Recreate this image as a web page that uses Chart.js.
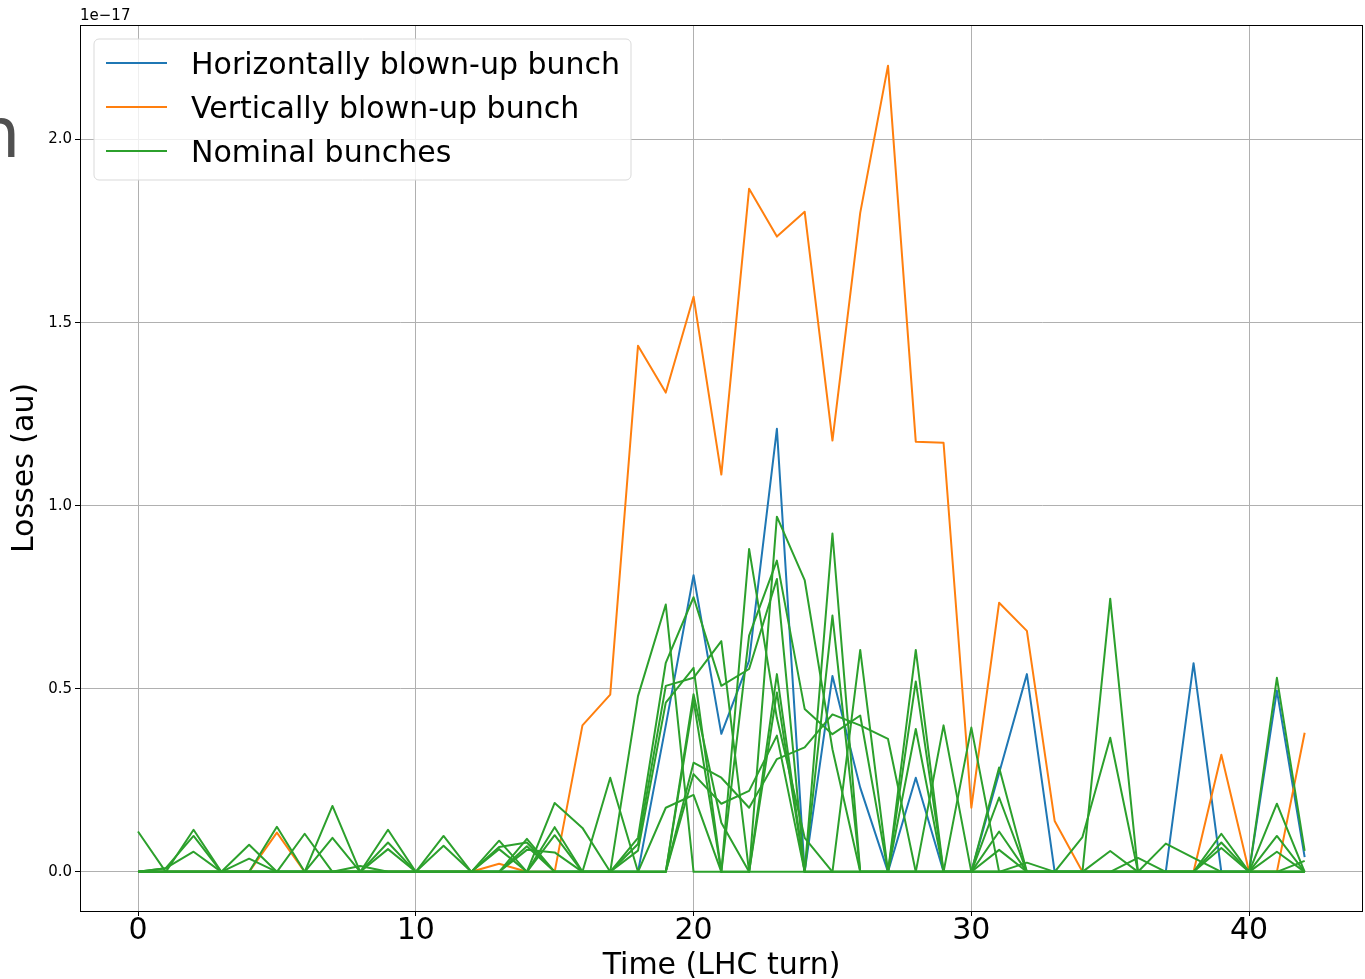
<!DOCTYPE html>
<html>
<head>
<meta charset="utf-8">
<script src="https://cdn.jsdelivr.net/npm/chart.js@4.4.1/dist/chart.umd.min.js"></script>
<style>
  html, body { margin: 0; padding: 0; background: #fff; }
  #wrap { width: 1365px; height: 979px; position: relative; }
</style>
</head>
<body>
<div id="wrap"><canvas id="lossChart" width="1365" height="979"></canvas></div>
<script>
// LHC turn number
const turns = [0, 1, 2, 3, 4, 5, 6, 7, 8, 9, 10, 11, 12, 13, 14, 15, 16, 17, 18, 19, 20,
               21, 22, 23, 24, 25, 26, 27, 28, 29, 30, 31, 32, 33, 34, 35, 36, 37, 38, 39, 40, 41, 42];

// losses in units of 1e-17
const horizontalBunch = [0, 0, 0, 0, 0, 0, 0, 0, 0, 0, 0, 0, 0, 0, 0, 0, 0, 0, 0, 0.40, 0.81,
                         0.377, 0.577, 1.21, 0, 0.535, 0.23, 0, 0.257, 0, 0, 0.27, 0.54, 0, 0, 0, 0, 0, 0.57, 0, 0, 0.495, 0.04];
const verticalBunch = [0, 0, 0, 0, 0, 0.107, 0, 0, 0, 0, 0, 0, 0, 0.022, 0, 0, 0.40, 0.484, 1.437, 1.309, 1.571,
                       1.085, 1.866, 1.735, 1.803, 1.178, 1.80, 2.202, 1.175, 1.172, 0.175, 0.735, 0.658, 0.139, 0, 0, 0, 0, 0, 0.32, 0, 0, 0.38];

// nominal bunches
const nominal1 = [0.11, 0, 0.115, 0, 0, 0, 0, 0.18, 0, 0.115, 0, 0, 0, 0.085, 0, 0.188, 0.12, 0, 0, 0, 0.298,
                  0.257, 0.175, 0.308, 0.34, 0.43, 0.40, 0.363, 0, 0, 0, 0.285, 0, 0, 0, 0.746, 0, 0, 0, 0.104, 0, 0.53, 0.057];
const nominal2 = [0, 0.01, 0.098, 0, 0.074, 0, 0, 0, 0, 0.08, 0, 0, 0, 0, 0.09, 0, 0, 0.257, 0, 0, 0.267,
                  0.186, 0.221, 0.372, 0, 0.924, 0, 0, 0.606, 0, 0, 0.203, 0, 0, 0, 0, 0, 0, 0, 0.08, 0, 0.186, 0];
const nominal3 = [0, 0.01, 0.055, 0, 0, 0.123, 0, 0, 0, 0, 0, 0.098, 0, 0, 0, 0.122, 0, 0, 0.48, 0.73, 0,
                  0, 0.882, 0.42, 0.093, 0, 0, 0, 0, 0.40, 0, 0, 0, 0, 0, 0.057, 0, 0, 0, 0, 0, 0.098, 0];
const nominal4 = [0, 0, 0, 0, 0.036, 0, 0.104, 0, 0, 0, 0, 0, 0, 0.068, 0.08, 0, 0, 0, 0.093, 0.571, 0.75,
                  0.508, 0.554, 0.80, 0, 0, 0, 0, 0.52, 0, 0, 0.11, 0, 0, 0, 0, 0.038, 0, 0, 0, 0, 0.055, 0];
const nominal5 = [0, 0, 0, 0, 0, 0, 0, 0.093, 0, 0.062, 0, 0, 0, 0, 0, 0.1, 0, 0, 0.076, 0.508, 0.53,
                  0.63, 0, 0, 0, 0.70, 0, 0, 0, 0, 0.394, 0, 0, 0, 0, 0, 0, 0.077, 0.038, 0, 0, 0, 0.03];
const nominal6 = [0, 0, 0, 0, 0, 0, 0, 0, 0.016, 0, 0, 0.071, 0, 0, 0.07, 0, 0, 0, 0.058, 0.462, 0.557,
                  0, 0.645, 0.85, 0.445, 0.376, 0.427, 0, 0, 0, 0, 0.06, 0, 0, 0, 0, 0, 0, 0, 0.065, 0, 0, 0];
const nominal7 = [0, 0, 0, 0, 0, 0, 0, 0, 0, 0, 0, 0, 0, 0.062, 0, 0, 0, 0, 0, 0.175, 0.21,
                  0, 0, 0.97, 0.797, 0.335, 0, 0, 0, 0, 0, 0, 0.025, 0, 0, 0, 0, 0, 0, 0, 0, 0, 0];
const nominal8 = [0, 0, 0, 0, 0, 0, 0, 0, 0, 0, 0, 0, 0, 0, 0.06, 0.053, 0, 0, 0, 0, 0.485,
                  0.134, 0, 0.54, 0, 0, 0.606, 0, 0, 0, 0, 0, 0, 0, 0.095, 0.366, 0, 0, 0, 0, 0, 0, 0];
const nominal9 = [0, 0, 0, 0, 0, 0, 0, 0, 0, 0, 0, 0, 0, 0, 0, 0, 0, 0, 0, 0, 0.467,
                  0, 0, 0.49, 0, 0, 0, 0, 0.39, 0, 0, 0, 0, 0, 0, 0, 0, 0, 0, 0, 0, 0, 0];
const nominalBunches = [nominal1, nominal2, nominal3, nominal4, nominal5, nominal6, nominal7, nominal8, nominal9];

const xTicks = [0, 10, 20, 30, 40];
const yTicks = [0.0, 0.5, 1.0, 1.5, 2.0];
const legendLabels = ['Horizontally blown-up bunch', 'Vertically blown-up bunch', 'Nominal bunches'];

const BLUE = '#1f77b4';
const ORANGE = '#ff7f0e';
const GREEN = '#2ca02c';
const FONT = '"DejaVu Sans", sans-serif';

const datasets = [
    { label: legendLabels[0], data: horizontalBunch, borderColor: BLUE, order: 3 },
    { label: legendLabels[1], data: verticalBunch, borderColor: ORANGE, order: 2 },
    ...nominalBunches.map((vals, i) => ({
        label: i === 0 ? legendLabels[2] : '',
        data: vals,
        borderColor: GREEN,
        order: 1
    }))
].map(ds => Object.assign(ds, {
    borderWidth: 2, borderJoinStyle: 'round', pointRadius: 0, tension: 0, fill: false
}));

// frame, offset text and boxed legend
const extras = {
    id: 'extras',
    afterDraw(chart) {
        const { ctx, chartArea: a } = chart;
        ctx.save();
        ctx.strokeStyle = '#000';
        ctx.lineWidth = 1;
        ctx.strokeRect(a.left + 0.5, a.top + 0.5, a.right - a.left - 1, a.bottom - a.top);

        ctx.fillStyle = '#000';
        ctx.font = '15px ' + FONT;
        ctx.textBaseline = 'alphabetic';
        ctx.textAlign = 'left';
        ctx.fillText('1e\u221217', a.left, a.top - 5);

        ctx.fillStyle = '#505050';
        ctx.font = '70px ' + FONT;
        ctx.fillText('n', -24, 157);

        // legend box
        const bx = 94, by = 39, bw = 537, bh = 141, r = 5;
        ctx.beginPath();
        ctx.moveTo(bx + r, by);
        ctx.arcTo(bx + bw, by, bx + bw, by + bh, r);
        ctx.arcTo(bx + bw, by + bh, bx, by + bh, r);
        ctx.arcTo(bx, by + bh, bx, by, r);
        ctx.arcTo(bx, by, bx + bw, by, r);
        ctx.closePath();
        ctx.fillStyle = 'rgba(255,255,255,0.8)';
        ctx.fill();
        ctx.strokeStyle = '#d9d9d9';
        ctx.stroke();

        const colors = [BLUE, ORANGE, GREEN];
        ctx.font = '30px ' + FONT;
        legendLabels.forEach((text, i) => {
            const y = 63 + i * 44;
            ctx.strokeStyle = colors[i];
            ctx.lineWidth = 2;
            ctx.beginPath();
            ctx.moveTo(106, y);
            ctx.lineTo(167, y);
            ctx.stroke();
            ctx.fillStyle = '#000';
            ctx.fillText(text, 191, y + 11);
        });
        ctx.restore();
    }
};

new Chart(document.getElementById('lossChart'), {
    type: 'line',
    data: { labels: turns, datasets },
    options: {
        responsive: false,
        animation: false,
        layout: { padding: { left: 0, top: 25, right: 2, bottom: 0 } },
        plugins: { legend: { display: false }, tooltip: { enabled: false } },
        scales: {
            x: {
                type: 'linear',
                min: -2.088,
                max: 44.1,
                afterFit: s => { s.height = 68; },
                afterBuildTicks: s => { s.ticks = xTicks.map(v => ({ value: v })); },
                grid: { color: '#b0b0b0', lineWidth: 1, tickColor: '#000', tickLength: 5, tickWidth: 1 },
                border: { display: false },
                ticks: { color: '#000', font: { family: FONT, size: 30 }, padding: -3, maxRotation: 0 },
                title: { display: true, text: 'Time (LHC turn)', color: '#000',
                         font: { family: FONT, size: 30 }, padding: { top: 0, bottom: -5 } }
            },
            y: {
                min: -0.107,
                max: 2.313,
                afterFit: s => { s.width = 80; },
                afterBuildTicks: s => { s.ticks = yTicks.map(v => ({ value: v })); },
                grid: { color: '#b0b0b0', lineWidth: 1, tickColor: '#000', tickLength: 5, tickWidth: 1 },
                border: { display: false },
                ticks: { color: '#000', font: { family: FONT, size: 15 }, padding: 3,
                         callback: v => v.toFixed(1) },
                title: { display: true, text: 'Losses (au)', color: '#000',
                         font: { family: FONT, size: 30 }, padding: { top: 7 } }
            }
        }
    },
    plugins: [extras]
});
</script>
</body>
</html>
